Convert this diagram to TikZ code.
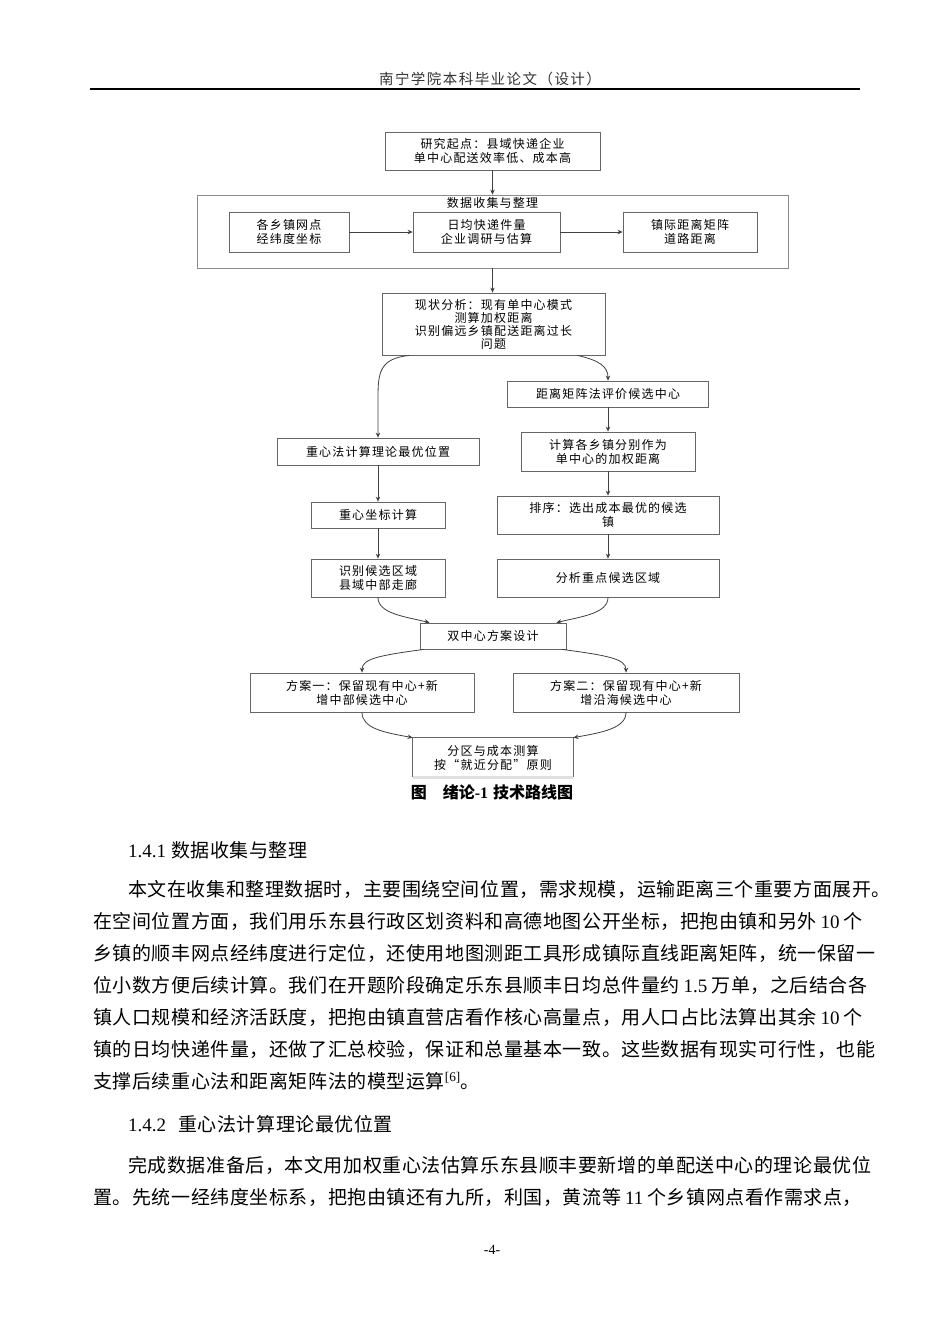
\documentclass[tikz,border=0pt]{standalone}
\usepackage{fontspec}
\setmainfont{Liberation Serif}
\newfontfamily\cjk{Noto Sans CJK SC}
\newfontfamily\cjkbody[LetterSpace=3]{Noto Sans CJK SC}
\newfontfamily\cjkbox[LetterSpace=10]{Noto Sans CJK SC}
\newfontfamily\cjkhead[LetterSpace=10]{Noto Sans CJK SC}
\usetikzlibrary{arrows.meta,calc}
\newcommand\lnum[1]{\hspace{4pt}{\rmfamily #1}\hspace{4pt}}
\tikzset{
  box/.style={draw=black!60, line width=0.8pt, fill=white, inner sep=0pt, align=center,
    text=black, font={\cjkbox\fontsize{12}{14}\selectfont}},
  outerbox/.style={draw=black!45, line width=0.8pt, inner sep=0pt},
  arr/.style={-{Stealth[length=5pt,width=4.5pt]}, draw=black!75, line width=0.8pt},
  bodyline/.style={anchor=base west, inner sep=0pt, font={\cjkbody\fontsize{19}{19}\selectfont}},
}
\begin{document}
\begin{tikzpicture}[x=1pt,y=-1pt]
\fill[white] (0,0) rectangle (950,1344);
\useasboundingbox (0,0) rectangle (950,1344);

% header
\node[inner sep=0pt, font={\cjkhead\fontsize{14.5}{14.5}\selectfont}, text=black!80] (head) at (490,79) {南宁学院本科毕业论文（设计）};
\coordinate (hl) at (90,89);
\coordinate (hr) at (860,89);
\draw[line width=1.6pt] (hl) -- (hr);

% flowchart
\node[box, minimum width=215pt, minimum height=38pt] (start) at (492.5,151) {研究起点：县域快递企业\\单中心配送效率低、成本高};
\node[outerbox, minimum width=591pt, minimum height=73pt] (outer) at (492.5,231.5) {};
\node[inner sep=0pt, text=black, font={\cjkbox\fontsize{12}{14}\selectfont}] (otitle) at (492.5,203) {数据收集与整理};
\node[box, minimum width=120pt, minimum height=40pt] (in1) at (289,232) {各乡镇网点\\经纬度坐标};
\node[box, minimum width=147pt, minimum height=40pt] (in2) at (486.5,232) {日均快递件量\\企业调研与估算};
\node[box, minimum width=134pt, minimum height=40pt] (in3) at (690,232) {镇际距离矩阵\\道路距离};
\node[box, minimum width=223pt, minimum height=62pt, font={\cjkbox\fontsize{12}{13}\selectfont}] (status) at (493.5,324) {现状分析：现有单中心模式\\测算加权距离\\识别偏远乡镇配送距离过长\\问题};

\node[box, minimum width=202pt, minimum height=27pt] (L1) at (378,451.5) {重心法计算理论最优位置};
\node[box, minimum width=134pt, minimum height=26pt] (L2) at (378,515) {重心坐标计算};
\node[box, minimum width=134pt, minimum height=38pt] (L3) at (378,578) {识别候选区域\\县域中部走廊};

\node[box, minimum width=201pt, minimum height=26pt] (R1) at (608,394) {距离矩阵法评价候选中心};
\node[box, minimum width=174pt, minimum height=39pt] (R2) at (608,451.5) {计算各乡镇分别作为\\单中心的加权距离};
\node[box, minimum width=222pt, minimum height=38pt] (R3) at (608,515) {排序：选出成本最优的候选\\镇};
\node[box, minimum width=222pt, minimum height=38pt] (R4) at (608,578) {分析重点候选区域};

\node[box, minimum width=146pt, minimum height=26pt] (merge) at (493,636) {双中心方案设计};
\node[box, minimum width=224pt, minimum height=39pt] (s1) at (362,692.5) {方案一：保留现有中心+新\\增中部候选中心};
\node[box, minimum width=226pt, minimum height=39pt] (s2) at (626,692.5) {方案二：保留现有中心+新\\增沿海候选中心};
\node[box, draw=none, minimum width=160pt, minimum height=39pt] (final) at (493,757.5) {分区与成本测算\\按“就近分配”原则};
\draw[black!60, line width=0.8pt] (final.south west) -- (final.north west) -- (final.north east) -- (final.south east);
\draw[black!12, line width=3pt] (final.south west) -- (final.south east);

% straight connectors
\draw[arr] (start.south) -- (outer.north);
\draw[arr] (outer.south) -- (outer.south |- status.north);
\draw[arr] (in1.east) -- (in2.west);
\draw[arr] (in2.east) -- (in3.west);
\draw[arr] (L1.south) -- (L2.north);
\draw[arr] (L2.south) -- (L3.north);
\draw[arr] (R1.south) -- (R2.north);
\draw[arr] (R2.south) -- (R3.north);
\draw[arr] (R3.south) -- (R4.north);

% curved connectors
\coordinate (c1s) at ([xshift=28pt]status.south west);
\coordinate (c2s) at ([xshift=-28pt]status.south east);
\draw[arr] (c1s) .. controls ($(c1s)+(-30,3)$) and ($(L1.north)+(0,-65)$) .. ($(L1.north)+(0,-40)$) -- (L1.north);
\draw[arr] (c2s) .. controls ($(c2s)+(22,5)$) and ($(R1.north)+(0,-14)$) .. (R1.north);
\draw[arr] (L3.south) .. controls ($(L3.south)+(0,16)$) and ($(merge.north west)+(-15,-6)$) .. ([xshift=10pt]merge.north west);
\draw[arr] (R4.south) .. controls ($(R4.south)+(0,16)$) and ($(merge.north east)+(15,-6)$) .. ([xshift=-10pt]merge.north east);
\draw[arr] ([xshift=4pt]merge.south west) .. controls ($(merge.south west)+(-40,6)$) and ($(s1.north)+(0,-14)$) .. (s1.north);
\draw[arr] ([xshift=-4pt]merge.south east) .. controls ($(merge.south east)+(40,6)$) and ($(s2.north)+(0,-14)$) .. (s2.north);
\draw[arr] (s1.south) .. controls ($(s1.south)+(0,16)$) and ($(final.north west)+(-28,-5)$) .. (final.north west);
\draw[arr] (s2.south) .. controls ($(s2.south)+(0,16)$) and ($(final.north east)+(28,-5)$) .. (final.north east);

% caption
\node[inner sep=0pt, font={\cjk\bfseries\fontsize{16}{16}\selectfont}] (cap) at (492,792) {图\hspace{16pt}绪论{\rmfamily\bfseries -1}\hspace{5pt}技术路线图};

% body text
\node[bodyline] (h1) at (128,857) {{\rmfamily 1.4.1} 数据收集与整理};
\node[bodyline] (p1) at (128,896) {本文在收集和整理数据时，主要围绕空间位置，需求规模，运输距离三个重要方面展开。};
\node[bodyline] (p2) at (93,928) {在空间位置方面，我们用乐东县行政区划资料和高德地图公开坐标，把抱由镇和另外\lnum{10}个};
\node[bodyline] (p3) at (93,960) {乡镇的顺丰网点经纬度进行定位，还使用地图测距工具形成镇际直线距离矩阵，统一保留一};
\node[bodyline] (p4) at (93,992) {位小数方便后续计算。我们在开题阶段确定乐东县顺丰日均总件量约\lnum{1.5}万单，之后结合各};
\node[bodyline] (p5) at (93,1024) {镇人口规模和经济活跃度，把抱由镇直营店看作核心高量点，用人口占比法算出其余\lnum{10}个};
\node[bodyline] (p6) at (93,1056) {镇的日均快递件量，还做了汇总校验，保证和总量基本一致。这些数据有现实可行性，也能};
\node[bodyline] (p7) at (93,1088) {支撑后续重心法和距离矩阵法的模型运算\textsuperscript{\rmfamily [6]}。};
\node[bodyline] (h2) at (128,1131) {{\rmfamily 1.4.2}\hspace{12pt}重心法计算理论最优位置};
\node[bodyline] (q1) at (128,1172) {完成数据准备后，本文用加权重心法估算乐东县顺丰要新增的单配送中心的理论最优位};
\node[bodyline] (q2) at (93,1204) {置。先统一经纬度坐标系，把抱由镇还有九所，利国，黄流等\lnum{11}个乡镇网点看作需求点，};
\node[inner sep=0pt, font={\rmfamily\fontsize{14}{14}\selectfont}] (pg) at (492,1250) {-4-};
\end{tikzpicture}
\end{document}
